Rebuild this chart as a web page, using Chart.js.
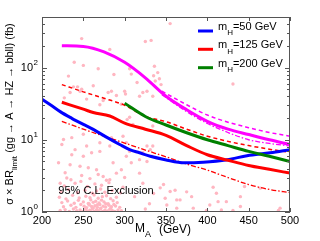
<!DOCTYPE html>
<html><head><meta charset="utf-8">
<script src="https://cdn.jsdelivr.net/npm/chart.js@4"></script>
<style>html,body{margin:0;padding:0;background:#fff;}#wrap{width:320px;height:241px;}</style>
</head><body><div id="wrap"><canvas id="c" width="320" height="241"></canvas></div>
<script>
// ---- data ----
const xTicks = [200, 250, 300, 350, 400, 450, 500];
const yTicks = [1, 10, 100];
const yTickExp = ['0', '1', '2'];

const blueM = [200,211,222,236,250,262,279,294,306,318,331,349,372,395,424,448,476,500];
const blueV = [36.5,30,24.5,19.8,16.3,13.9,10.7,8.6,7.3,6.6,5.9,5.3,4.8,4.9,5.3,6.0,6.6,7.3];

const redM = [224,250,262,282,300,325,350,375,400,425,450,475,500];
const redV = [33,26.5,23.8,21.3,17,14,11.5,8.3,6.2,5.2,4.4,3.9,3.45];

const redDashM = [224,250,275,300,325,350,375,400,425,450,475,500];
const redDashV = [58,46,37.5,30,21,17.8,14,11.2,9.5,8.3,7.4,6.7];

const redDotM = [224,250,275,300,325,350,375,400,425,450,475,500];
const redDotV = [18,14,11.2,9,7.2,5.8,4.6,3.8,3.0,2.4,2.05,1.85];

const greenM = [300,325,350,375,400,425,450,475,500];
const greenV = [32,21,16,12.5,10,8.3,6.9,5.9,5.0];

const magM = [224,250,275,300,325,350,375,400,425,450,475,500];
const magV = [200,196,165,118,72,40,26,18,14,11.8,10,8.6];

const magDashM = [345,375,400,425,450,475,500];
const magDashV = [47,30.5,22,17.5,14.7,12.6,11.2];

const magDotM = [345,375,400,425,450,475,500];
const magDotV = [42,24.5,16.8,12.6,10,8.9,8.2];

const scatterM = [
 248,282,239,250,268,232,287,306,325,332,336,315,262,227,238,243,248,234,246,254,280,290,284,300,301,274,270,296,322,335,337,340,342,344,308,318,327,355,431,
 334,306,303,310,298,334,334,331,318,327,
 220,234,228,222,230,236,240,250,260,270,246,256,266,274,282,290,296,286,302,308,318,322,312,226,236,250,224,254,270,284,282,302,306,322,333,327,
 343,347,349,351,355,361,363,367,363,381,383,403,411,413,417,423,440,445,464,488,407,440,399,431,486,375,330,335,325,
 222,228,233,238,242,246,249,252,255,258,261,263,266,268,271,273,276,279,282,285,288,292,296,
 226,235,241,247,251,254,257,260,264,267,270,274,277,281,284,289,294,
 224,231,239,244,250,256,259,262,265,269,272,275,280,286,291,
 221,229,237,245,253,258,263,268,273,278,283,290,
 223,232,243,252,261,266,271,276,285,295,
 227,240,255,264,272,281,298,
 235,248,258,268,278,300,247,
 253,257,262,267,271,277,283,287,260,265,269,274,279
];
const scatterV = [
 251,178,118,107,96,76,80,96,229,237,104,62,56,38,54,54,50,45,47,36.5,45,41,47,47,43,35,30.5,31,45,77,65,85,70,58,81,40,47,405,59,
 40,20.5,19,16.3,11.2,15.5,8.2,7.3,5.3,5.0,
 4.8,4.5,3.5,2.5,2.95,6.2,7.3,5.9,6.6,6.9,4.3,4.1,3.85,3.1,2.8,3.45,3.85,4.8,5.9,4.8,3.45,2.5,1.63,10.1,10.7,11.9,8.6,8.2,9.1,10.7,8.2,9.1,6.9,6.6,5.9,8.2,
 2.16,2.4,1.55,1.25,1.92,2.0,1.47,1.47,1.13,1.63,1.13,1.25,1.82,1.39,1.07,1.39,1.19,2.25,2.14,1.13,2.2,1.63,1.05,1.05,1.05,1.9,1.3,1.8,1.1,
 1.05,1.08,1.02,1.10,1.04,1.07,1.01,1.09,1.03,1.06,1.11,1.02,1.08,1.04,1.10,1.01,1.06,1.03,1.09,1.05,1.02,1.07,1.04,
 1.18,1.24,1.16,1.27,1.2,1.15,1.25,1.19,1.22,1.16,1.27,1.2,1.17,1.24,1.18,1.21,1.16,
 1.35,1.42,1.32,1.45,1.38,1.31,1.47,1.36,1.41,1.33,1.46,1.38,1.3,1.43,1.35,
 1.6,1.52,1.7,1.56,1.65,1.58,1.72,1.55,1.63,1.68,1.53,1.6,
 1.9,2.05,1.85,2.0,1.82,1.95,2.08,1.88,1.98,1.84,
 2.3,2.5,2.25,2.45,2.35,2.55,2.2,
 2.8,3.2,2.9,3.3,2.75,3.0,2.65,
 1.12,1.29,1.14,1.26,1.13,1.3,1.12,1.27,1.0,1.01,1.0,1.01,1.0
];

const legendItems = [
  {main:'m', sub:'H', rest:'=50 GeV', color:'#0000ff'},
  {main:'m', sub:'H', rest:'=125 GeV', color:'#ff0000'},
  {main:'m', sub:'H', rest:'=200 GeV', color:'#008000'}
];

const pts = (m, v) => m.map((x, i) => ({x: x, y: v[i]}));

const FONT = "'Liberation Sans', Arial, Helvetica, sans-serif";
const AXC = '#555555';

const decor = {
  id: 'decor',
  afterDraw(chart) {
    const ctx = chart.ctx, a = chart.chartArea, xs = chart.scales.x, ys = chart.scales.y;
    ctx.save();
    // frame
    ctx.strokeStyle = AXC; ctx.lineWidth = 1;
    ctx.strokeRect(Math.round(a.left)+0.5, Math.round(a.top)+0.5, Math.round(a.right-a.left)-1, Math.round(a.bottom-a.top)-1);
    // x ticks
    ctx.beginPath();
    xTicks.forEach(t => {
      const px = Math.round(xs.getPixelForValue(t)) + 0.5;
      ctx.moveTo(px, a.bottom); ctx.lineTo(px, a.bottom - 4);
      ctx.moveTo(px, a.top); ctx.lineTo(px, a.top + 4);
    });
    // y ticks (major + minor)
    for (let d = 0; d < 3; d++) {
      for (let k = 1; k <= 9; k++) {
        const v = k * Math.pow(10, d);
        if (v > 500) break;
        const py = Math.round(ys.getPixelForValue(v)) + 0.5;
        const len = k === 1 ? 5 : 3;
        ctx.moveTo(a.left, py); ctx.lineTo(a.left + len, py);
        ctx.moveTo(a.right, py); ctx.lineTo(a.right - len, py);
      }
    }
    ctx.stroke();
    // x tick labels
    ctx.fillStyle = '#000';
    ctx.font = '11px ' + FONT;
    ctx.textAlign = 'center'; ctx.textBaseline = 'middle';
    xTicks.forEach(t => ctx.fillText(String(t), xs.getPixelForValue(t), a.bottom + 9));
    // y tick labels
    yTicks.forEach((t, i) => {
      const py = ys.getPixelForValue(t);
      ctx.font = '11px ' + FONT; ctx.textAlign = 'right'; ctx.textBaseline = 'middle';
      ctx.fillText('10', 33, py);
      ctx.font = '8px ' + FONT; ctx.textAlign = 'left';
      ctx.fillText(yTickExp[i], 33.5, py - 5);
    });
    // x title
    ctx.textBaseline = 'middle'; ctx.textAlign = 'left';
    ctx.font = '12px ' + FONT;
    ctx.fillText('M', 135, 229);
    ctx.font = '9px ' + FONT;
    ctx.fillText('A', 145, 235);
    ctx.font = '12px ' + FONT;
    ctx.fillText('(GeV)', 159, 230);
    // y title rotated
    ctx.save();
    ctx.translate(10, 114);
    ctx.rotate(-Math.PI / 2);
    const p1 = '\u03c3 \u00d7 BR', p2 = 'limit', p3 = ' (gg \u2192 A \u2192 HZ \u2192 bbll) (fb)';
    ctx.font = '11px ' + FONT; const w1 = ctx.measureText(p1).width, w3 = ctx.measureText(p3).width;
    ctx.font = '8px ' + FONT; const w2 = ctx.measureText(p2).width;
    let x0 = -(w1 + w2 + w3) / 2;
    ctx.textAlign = 'left'; ctx.textBaseline = 'middle';
    ctx.font = '11px ' + FONT; ctx.fillText(p1, x0, 0); x0 += w1;
    ctx.font = '8px ' + FONT; ctx.fillText(p2, x0, 4.5); x0 += w2;
    ctx.font = '11px ' + FONT; ctx.fillText(p3, x0, 0);
    ctx.restore();
    // annotation
    ctx.font = '11px ' + FONT; ctx.textAlign = 'center'; ctx.textBaseline = 'middle';
    ctx.fillText('95% C.L. Exclusion', 106, 191);
    // legend
    const ly = [31, 49.3, 67.7];
    legendItems.forEach((it, i) => {
      ctx.strokeStyle = it.color; ctx.lineWidth = 3;
      ctx.beginPath(); ctx.moveTo(198, ly[i]); ctx.lineTo(213, ly[i]); ctx.stroke();
      ctx.fillStyle = '#000'; ctx.textAlign = 'left'; ctx.textBaseline = 'middle';
      let x = 218;
      ctx.font = '11px ' + FONT; ctx.fillText(it.main, x, ly[i] - 4); x += ctx.measureText(it.main).width;
      ctx.font = '8px ' + FONT; ctx.fillText(it.sub, x, ly[i] + 2); x += ctx.measureText(it.sub).width;
      ctx.font = '11px ' + FONT; ctx.fillText(it.rest, x, ly[i] - 4);
    });
    ctx.restore();
  }
};

const lineDs = (m, v, color, width, dash, order) => ({
  data: pts(m, v), borderColor: color, borderWidth: width, borderDash: dash,
  pointRadius: 0, fill: false, tension: 0.3, cubicInterpolationMode: 'monotone', order: order
});

new Chart(document.getElementById('c'), {
  type: 'line',
  data: {
    datasets: [
      {data: pts(scatterM, scatterV), showLine: false, pointRadius: 1.7, pointBorderWidth: 0,
       pointBackgroundColor: '#ffb6c1', backgroundColor: '#ffb6c1', borderColor: '#ffb6c1', order: 20},
      lineDs(redDashM, redDashV, '#ff0000', 1.5, [4, 3], 5),
      lineDs(redDotM, redDotV, '#ff0000', 1.3, [5, 2, 1.5, 2], 5),
      lineDs(magDashM, magDashV, '#ff00ff', 1.5, [4, 3], 5),
      lineDs(magDotM, magDotV, '#ff00ff', 1.3, [5, 2, 1.5, 2], 5),
      lineDs(magM, magV, '#ff00ff', 3, [], 1),
      lineDs(greenM, greenV, '#008000', 3, [], 1),
      lineDs(redM, redV, '#ff0000', 3, [], 1),
      lineDs(blueM, blueV, '#0000ff', 3, [], 1)
    ]
  },
  options: {
    responsive: false, animation: false, devicePixelRatio: 1,
    layout: {padding: {left: 42, right: 30, top: 17, bottom: 29}},
    plugins: {legend: {display: false}, tooltip: {enabled: false}},
    scales: {
      x: {type: 'linear', min: 200, max: 500, display: false},
      y: {type: 'logarithmic', min: 1, max: 500, display: false}
    }
  },
  plugins: [decor]
});
</script>
</body></html>
